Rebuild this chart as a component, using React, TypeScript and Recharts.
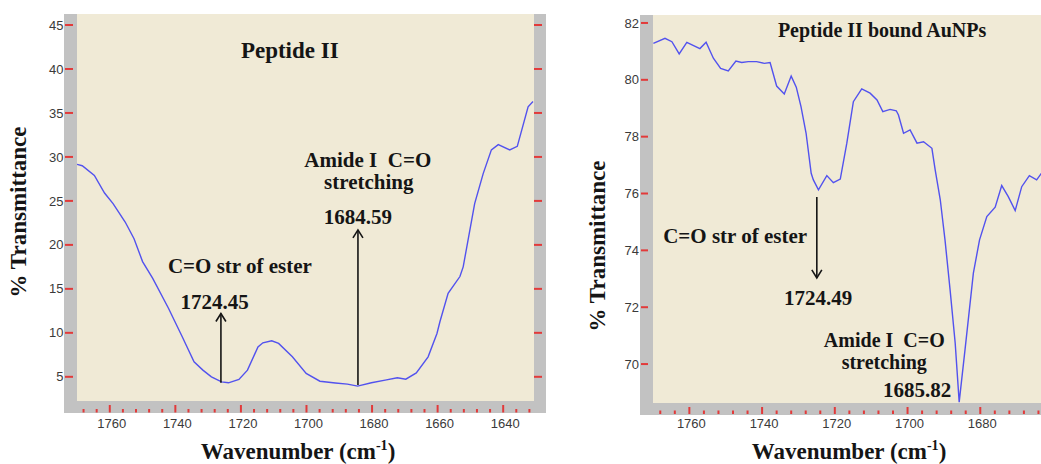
import React from 'react';
import { LineChart, Line, XAxis, YAxis, CartesianGrid, ReferenceLine, ReferenceDot } from 'recharts';

// ---------- data: Peptide II ----------
const leftWavenumber = [
  1770.0, 1768.4, 1764.7, 1761.6, 1759.0, 1755.3, 1752.6, 1750.0, 1746.9, 1742.1,
  1737.9, 1734.3, 1731.6, 1729.0, 1725.9, 1723.8, 1720.6, 1718.0, 1714.8, 1713.3,
  1710.6, 1708.5, 1704.3, 1700.1, 1695.9, 1691.2, 1687.5, 1684.4, 1680.2, 1676.0,
  1672.3, 1669.7, 1666.5, 1662.9, 1660.2, 1659.3, 1656.8, 1653.2, 1652.2, 1648.7,
  1646.1, 1643.6, 1641.5, 1638.0, 1635.7, 1632.4, 1630.9,
];
const leftTransmittance = [
  29.16, 29.0, 27.9, 25.9, 24.7, 22.6, 20.7, 18.1, 16.2, 12.8,
  9.55, 6.7, 5.76, 5.0, 4.43, 4.32, 4.7, 5.76, 8.4, 8.87,
  9.1, 8.8, 7.27, 5.38, 4.5, 4.3, 4.17, 3.94, 4.32, 4.62,
  4.9, 4.73, 5.45, 7.27, 9.93, 11.26, 14.5, 16.4, 17.5, 24.7,
  28.1, 30.8, 31.4, 30.8, 31.2, 35.7, 36.3,
];

// ---------- data: Peptide II bound AuNPs ----------
const rightWavenumber = [
  1769.9, 1766.7, 1764.8, 1762.8, 1760.7, 1757.1, 1755.4, 1753.4, 1751.4, 1749.3,
  1747.2, 1745.6, 1743.8, 1741.5, 1739.4, 1737.8, 1736.0, 1733.9, 1732.0, 1730.6,
  1729.3, 1727.9, 1726.5, 1725.9, 1724.5, 1722.2, 1720.4, 1718.5, 1716.7, 1714.9,
  1712.6, 1710.3, 1708.4, 1706.8, 1704.8, 1703.1, 1702.5, 1701.1, 1699.3, 1697.4,
  1695.6, 1693.3, 1692.4, 1691.0, 1689.7, 1688.3, 1686.9, 1685.8, 1684.2, 1683.2,
  1681.9, 1680.2, 1678.2, 1675.9, 1674.1, 1672.3, 1670.4, 1668.6, 1666.5, 1664.5,
  1663.2,
];
const rightTransmittance = [
  81.28, 81.46, 81.34, 80.91, 81.32, 81.1, 81.32, 80.76, 80.4, 80.31,
  80.66, 80.61, 80.64, 80.64, 80.58, 80.61, 79.78, 79.5, 80.13, 79.74,
  79.06, 78.12, 76.71, 76.48, 76.13, 76.63, 76.38, 76.51, 77.77, 79.23,
  79.68, 79.53, 79.29, 78.88, 78.96, 78.91, 78.76, 78.12, 78.24, 77.77,
  77.82, 77.59, 76.83, 75.78, 74.37, 72.61, 70.74, 68.66, 70.5, 71.67,
  73.2, 74.37, 75.19, 75.52, 76.28, 75.89, 75.4, 76.24, 76.63, 76.48,
  76.71,
];

// ---------- axes ----------
const leftXDomain: [number, number] = [1630.6, 1770];
const leftYDomain: [number, number] = [2.25, 46.25];
const leftXMajor = [1760, 1740, 1720, 1700, 1680, 1660, 1640];
const leftYTicks = [5, 10, 15, 20, 25, 30, 35, 40, 45];

const rightXDomain: [number, number] = [1663.3, 1770];
const rightYDomain: [number, number] = [68.63, 82.28];
const rightXMajor = [1760, 1740, 1720, 1700, 1680];
const rightYTicks = [70, 72, 74, 76, 78, 80, 82];

const MINOR_STEP = 4;

// ---------- annotations ----------
const leftNotes = [
  { text: 'Peptide II', w: 1705.1, v: 41.3, size: 23 },
  { text: 'Amide I\u00a0\u00a0C=O', w: 1681.3, v: 28.9, size: 21 },
  { text: 'stretching', w: 1681.0, v: 26.35, size: 21 },
  { text: '1684.59', w: 1684.3, v: 22.37, size: 21 },
  { text: 'C=O str of ester', w: 1720.3, v: 16.76, size: 21 },
  { text: '1724.45', w: 1728.0, v: 12.67, size: 21 },
];
const leftArrows = [
  { w: 1726.1, from: 4.32, to: 12.2 },
  { w: 1684.3, from: 4.06, to: 21.7 },
];
const rightNotes = [
  { text: 'Peptide II bound AuNPs', w: 1707.0, v: 81.49, size: 20 },
  { text: 'C=O str of ester', w: 1747.4, v: 74.26, size: 21 },
  { text: '1724.49', w: 1724.6, v: 72.08, size: 21 },
  { text: 'Amide I\u00a0\u00a0C=O', w: 1706.4, v: 70.6, size: 20 },
  { text: 'stretching', w: 1706.4, v: 69.83, size: 20 },
  { text: '1685.82', w: 1697.4, v: 68.85, size: 21 },
];
const rightArrows = [{ w: 1724.95, from: 75.88, to: 73.03 }];

// ---------- styles ----------
const SERIF = '"Liberation Serif", "Times New Roman", serif';
const SANS = '"Liberation Sans", Arial, sans-serif';
const RED = '#e23a3a';
const BLUE = '#5252ee';
const BEIGE = '#f0ead6';
const GRAY = '#c2c2c2';
const INK = '#151515';

const makeMinor = (d: [number, number]) => {
  const out: number[] = [];
  for (let t = Math.ceil(d[0] / MINOR_STEP) * MINOR_STEP; t <= d[1]; t += MINOR_STEP) out.push(t);
  return out;
};

const TextShape = (props: any) => {
  const { cx, cy, text, size } = props;
  if (cx == null || cy == null) return null;
  return (
    <text x={cx} y={cy} textAnchor="middle" fontFamily={SERIF} fontWeight="bold" fontSize={size} fill={INK}>
      {text}
    </text>
  );
};

const ArrowShape = (props: any) => {
  const { x1, y1, x2, y2 } = props;
  if ([x1, y1, x2, y2].some((n) => n == null)) return null;
  const dir = y2 < y1 ? 1 : -1;
  return (
    <g>
      <line x1={x1} y1={y1} x2={x2} y2={y2} stroke={INK} strokeWidth={1.6} />
      <polyline
        points={`${x2 - 5},${y2 + dir * 8} ${x2},${y2} ${x2 + 5},${y2 + dir * 8}`}
        fill="none"
        stroke={INK}
        strokeWidth={1.6}
      />
    </g>
  );
};

const YTick = (props: any) => {
  const { x, y, payload, plotRight, tA, tB, labelGap } = props;
  return (
    <g>
      <line x1={x - tA} x2={x - tB} y1={y} y2={y} stroke={RED} strokeWidth={2} />
      {plotRight != null && (
        <line x1={plotRight} x2={plotRight + 8} y1={y} y2={y} stroke={RED} strokeWidth={2} />
      )}
      <text x={x - labelGap} y={y + 4.6} textAnchor="end" fontFamily={SANS} fontSize={13} fill="#3a3a3a">
        {payload.value}
      </text>
    </g>
  );
};

const XTick = (props: any) => {
  const { x, y, payload, majors, mA, mB, nA, labelDy } = props;
  const isMajor = majors.includes(payload.value);
  return (
    <g>
      <line x1={x} x2={x} y1={y + (isMajor ? mA : nA)} y2={y + mB} stroke={RED} strokeWidth={2} />
      {isMajor && (
        <text x={x + 2} y={y + labelDy} textAnchor="middle" fontFamily={SANS} fontSize={13} fill="#3a3a3a">
          {payload.value}
        </text>
      )}
    </g>
  );
};

const YTitle = (props: any) => {
  const { viewBox, dx, dy } = props;
  if (!viewBox) return null;
  const x = viewBox.x + viewBox.width + dx;
  const y = viewBox.y + viewBox.height / 2 + dy;
  return (
    <text x={x} y={y} transform={`rotate(-90 ${x} ${y})`} textAnchor="middle" fontFamily={SERIF} fontWeight="bold" fontSize={23} fill={INK}>
      % Transmittance
    </text>
  );
};

const XTitle = (props: any) => {
  const { viewBox, dx, dy } = props;
  if (!viewBox) return null;
  const x = viewBox.x + viewBox.width / 2 + dx;
  const y = viewBox.y + dy;
  return (
    <text x={x} y={y} textAnchor="middle" fontFamily={SERIF} fontWeight="bold" fontSize={23} fill={INK}>
      <tspan>Wavenumber (cm</tspan>
      <tspan dy={-9} fontSize={14}>-1</tspan>
      <tspan dy={9}>)</tspan>
    </text>
  );
};

type PanelProps = {
  wn: number[];
  tr: number[];
  xDomain: [number, number];
  yDomain: [number, number];
  xMajor: number[];
  yTicks: number[];
  notes: { text: string; w: number; v: number; size: number }[];
  arrows: { w: number; from: number; to: number }[];
  left: number;
  width: number;
  margin: { top: number; right: number; bottom: number; left: number };
  frame: { left: number; top: number; width: number; height: number };
  plotRight?: number;
  yTickCfg: { tA: number; tB: number; labelGap: number };
  xTickCfg: { mA: number; mB: number; nA: number; labelDy: number };
  yTitle: { dx: number; dy: number };
  xTitle: { dx: number; dy: number };
};

const Panel = (p: PanelProps) => {
  const rows = p.wn.map((w, i) => ({ w, v: p.tr[i] }));
  const xTicks = makeMinor(p.xDomain);
  return (
    <>
      <div style={{ position: 'absolute', left: p.frame.left, top: p.frame.top, width: p.frame.width, height: p.frame.height, background: GRAY }} />
      <div style={{ position: 'absolute', left: p.left, top: 0 }}>
        <LineChart width={p.width} height={464} data={rows} margin={p.margin}>
          <CartesianGrid fill={BEIGE} stroke="none" horizontal={false} vertical={false} />
          <XAxis
            dataKey="w"
            type="number"
            domain={p.xDomain}
            allowDataOverflow
            reversed
            ticks={xTicks}
            interval={0}
            height={30}
            tickSize={0}
            tickMargin={0}
            axisLine={false}
            tickLine={false}
            tick={<XTick majors={p.xMajor} {...p.xTickCfg} />}
            label={<XTitle {...p.xTitle} />}
          />
          <YAxis
            type="number"
            domain={p.yDomain}
            allowDataOverflow
            ticks={p.yTicks}
            interval={0}
            width={60}
            tickSize={0}
            tickMargin={0}
            axisLine={false}
            tickLine={false}
            tick={<YTick plotRight={p.plotRight} {...p.yTickCfg} />}
            label={<YTitle {...p.yTitle} />}
          />
          <Line
            dataKey="v"
            type="linear"
            stroke={BLUE}
            strokeWidth={1.4}
            dot={false}
            activeDot={false}
            isAnimationActive={false}
          />
          {p.arrows.map((a, i) => (
            <ReferenceLine
              key={`a${i}`}
              segment={[{ x: a.w, y: a.from }, { x: a.w, y: a.to }]}
              shape={<ArrowShape />}
              ifOverflow="visible"
            />
          ))}
          {p.notes.map((n, i) => (
            <ReferenceDot
              key={`n${i}`}
              x={n.w}
              y={n.v}
              r={0}
              ifOverflow="visible"
              shape={<TextShape text={n.text} size={n.size} />}
            />
          ))}
        </LineChart>
      </div>
    </>
  );
};

export default function App() {
  return (
    <div style={{ position: 'absolute', left: 0, top: 0, width: 1041, height: 464, overflow: 'hidden', background: '#fff' }}>
      <Panel
        wn={leftWavenumber}
        tr={leftTransmittance}
        xDomain={leftXDomain}
        yDomain={leftYDomain}
        xMajor={leftXMajor}
        yTicks={leftYTicks}
        notes={leftNotes}
        arrows={leftArrows}
        left={0}
        width={560}
        margin={{ top: 14, right: 26, bottom: 33, left: 17 }}
        frame={{ left: 64, top: 14, width: 482, height: 399 }}
        plotRight={534}
        yTickCfg={{ tA: 12, tB: 4, labelGap: 13.5 }}
        xTickCfg={{ mA: 4, mB: 11.5, nA: 8, labelDy: 26.5 }}
        yTitle={{ dx: -51, dy: 4.5 }}
        xTitle={{ dx: -7.5, dy: 57.5 }}
      />
      <Panel
        wn={rightWavenumber}
        tr={rightTransmittance}
        xDomain={rightXDomain}
        yDomain={rightYDomain}
        xMajor={rightXMajor}
        yTicks={rightYTicks}
        notes={rightNotes}
        arrows={rightArrows}
        left={580}
        width={461}
        margin={{ top: 15, right: 0, bottom: 31, left: 13 }}
        frame={{ left: 640, top: 15, width: 401, height: 400 }}
        yTickCfg={{ tA: 12, tB: 5, labelGap: 14 }}
        xTickCfg={{ mA: 4, mB: 11, nA: 7.5, labelDy: 25 }}
        yTitle={{ dx: -48, dy: 37 }}
        xTitle={{ dx: 2, dy: 55.5 }}
      />
    </div>
  );
}
